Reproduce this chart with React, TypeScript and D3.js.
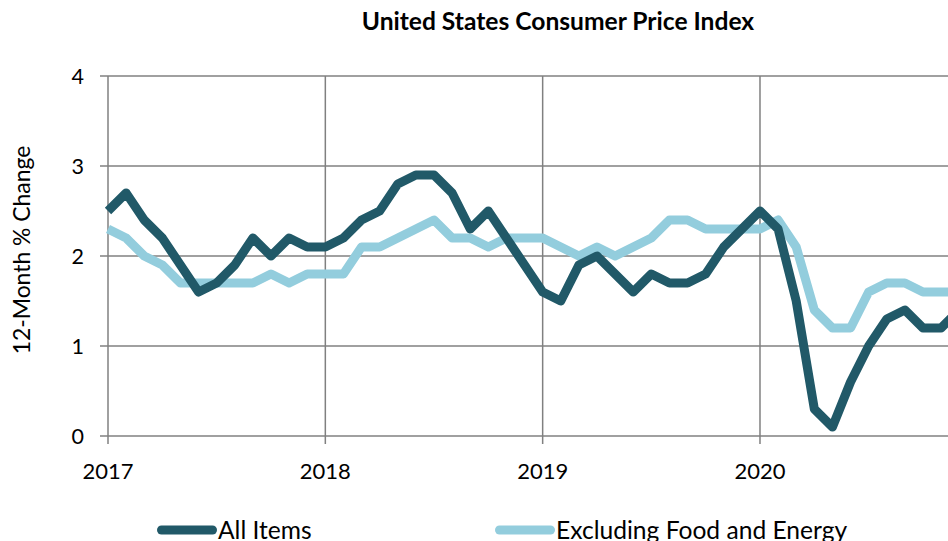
import React from 'react';
import * as d3 from 'd3';

const width = 948;
const height = 541;
const margin = { top: 76, left: 108, bottom: 105 };

const years = [2017, 2018, 2019, 2020];
const yTicks = [0, 1, 2, 3, 4];

// monthly 12-month % change, Jan 2017 .. Dec 2020
const allItems = [
  2.5, 2.7, 2.4, 2.2, 1.9, 1.6, 1.7, 1.9, 2.2, 2.0, 2.2, 2.1,
  2.1, 2.2, 2.4, 2.5, 2.8, 2.9, 2.9, 2.7, 2.3, 2.5, 2.2, 1.9,
  1.6, 1.5, 1.9, 2.0, 1.8, 1.6, 1.8, 1.7, 1.7, 1.8, 2.1, 2.3,
  2.5, 2.3, 1.5, 0.3, 0.1, 0.6, 1.0, 1.3, 1.4, 1.2, 1.2, 1.4,
];
const coreItems = [
  2.3, 2.2, 2.0, 1.9, 1.7, 1.7, 1.7, 1.7, 1.7, 1.8, 1.7, 1.8,
  1.8, 1.8, 2.1, 2.1, 2.2, 2.3, 2.4, 2.2, 2.2, 2.1, 2.2, 2.2,
  2.2, 2.1, 2.0, 2.1, 2.0, 2.1, 2.2, 2.4, 2.4, 2.3, 2.3, 2.3,
  2.3, 2.4, 2.1, 1.4, 1.2, 1.2, 1.6, 1.7, 1.7, 1.6, 1.6, 1.6,
];

const series = [
  { name: 'All Items', values: allItems, color: '#215968' },
  { name: 'Excluding Food and Energy', values: coreItems, color: '#93CDDD' },
];

const font = 'Lato, "Open Sans", sans-serif';

export default function App() {
  const yearWidth = 217.33;
  const x = d3.scaleLinear().domain([2017, 2021]).range([margin.left, margin.left + 4 * yearWidth]);
  const y = d3.scaleLinear().domain([0, 4]).range([height - margin.bottom, margin.top]);

  const line = d3.line<number>()
    .x((_, i) => x(2017 + i / 12))
    .y(d => y(d));

  const grid = '#808080';

  return (
    <div>
      <style>{`body{margin:0}`}</style>
      <svg width={width} height={height} style={{ display: 'block', fontFamily: font }}>
        <text x={558} y={30} textAnchor="middle" fontSize={24.6} fontWeight="bold" fill="#000">
          United States Consumer Price Index
        </text>

        {yTicks.map(t => (
          <g key={'y' + t}>
            <line x1={margin.left - 8} x2={width} y1={y(t)} y2={y(t)} stroke={grid} strokeWidth={1.5} />
            <text x={84} y={y(t)} dy="0.36em" textAnchor="end" fontSize={21.5} fill="#000">{t}</text>
          </g>
        ))}

        {years.map(yr => (
          <g key={'x' + yr}>
            <line x1={x(yr)} x2={x(yr)} y1={y(4)} y2={y(0) + 8} stroke={grid} strokeWidth={1.5} />
            <text x={x(yr)} y={479} textAnchor="middle" fontSize={22} fill="#000">{yr}</text>
          </g>
        ))}

        <text transform={`translate(30,250) rotate(-90)`} textAnchor="middle" fontSize={22.9} fill="#000">
          12-Month % Change
        </text>

        {series.slice().reverse().map(s => (
          <path key={s.name} d={line(s.values) || ''} fill="none" stroke={s.color} strokeWidth={9}
            strokeLinejoin="round" strokeLinecap="butt" />
        ))}

        {series.map((s, i) => {
          const lx = i === 0 ? 157 : 495;
          return (
            <g key={'lg' + s.name}>
              <line x1={lx + 4.5} x2={lx + 55.5} y1={530} y2={530} stroke={s.color} strokeWidth={9} strokeLinecap="round" />
              <text x={lx + 61} y={539} fontSize={24.6} fill="#000">{s.name}</text>
            </g>
          );
        })}
      </svg>
    </div>
  );
}
